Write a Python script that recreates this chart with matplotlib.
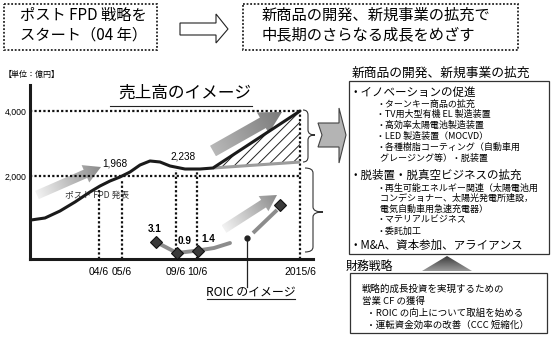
import numpy as np
import matplotlib.pyplot as plt
from matplotlib.patches import Rectangle, Polygon, PathPatch
from matplotlib.path import Path
from matplotlib.colors import LinearSegmentedColormap

plt.rcParams['font.family'] = ['Noto Sans CJK JP', 'DejaVu Sans']
plt.rcParams['hatch.linewidth'] = 0.7
NUM = ['Liberation Sans', 'DejaVu Sans']

# uneven timeline of the picture: positions along the x axis
tick_pos = [69, 92, 146, 167, 270]
tick_labels = ["04/6", "05/6", "09/6", "10/6", "2015/6"]

# sales image (億円)
sales_pos = [1, 15, 30, 45, 60, 70, 80, 90, 100, 110, 120, 130, 140, 155, 170, 183, 270]
sales_val = [646, 708, 923, 1200, 1508, 1692, 1846, 1969, 2123, 2338, 2462, 2431,
             2308, 2215, 2215, 2246, 4000]
base_pos = [183, 270]
base_val = [2246, 2430]
sales_label_pos = [92, 157]
sales_label_txt = ["1,968", "2,238"]

# ROIC image (%)
roic_pos = [126, 147, 168, 184, 200]
roic_val = [3.1, 0.9, 1.4, 1.9, 2.9]
roic_txt = ["3.1", "0.9", "1.4"]
roic_future_pos = [223, 247]
roic_future_val = [4.9, 9.5]
roic_target_pos = 250
roic_target_val = 10.5

innov_title = "・イノベーションの促進"
innov_items = ["・ターンキー商品の拡充", "・TV用大型有機 EL 製造装置", "・高効率太陽電池製造装置",
               "・LED 製造装置（MOCVD）", "・各種樹脂コーティング（自動車用", "  グレージング等）・脱装置"]
dev_title = "・脱装置・脱真空ビジネスの拡充"
dev_items = ["・再生可能エネルギー関連（太陽電池用", "  コンデショナー、太陽光発電所建設，",
             "  電気自動車用急速充電器）", "・マテリアルビジネス", "・委託加工"]
ma_title = "・M&A、資本参加、アライアンス"
fin_lines = ["戦略的成長投資を実現するための", "営業 CF の獲得",
             "  ・ROIC の向上について取組を始める", "  ・運転資金効率の改善（CCC 短縮化）"]

W, H = 554, 337
fig = plt.figure(figsize=(W / 100, H / 100), dpi=100)
bg = fig.add_axes([0, 0, 1, 1])
bg.axis('off')


def grad_fill(ax, pts, p0, p1, c0, c1, z=1):
    poly = Polygon(pts, closed=True, fc='none', ec='none')
    ax.add_patch(poly)
    xs = [p[0] for p in pts]
    ys = [p[1] for p in pts]
    x0, x1, y0, y1 = min(xs), max(xs), min(ys), max(ys)
    gx, gy = np.meshgrid(np.linspace(x0, x1, 120), np.linspace(y0, y1, 120))
    d = np.array(p1, float) - np.array(p0, float)
    t = ((gx - p0[0]) * d[0] + (gy - p0[1]) * d[1]) / (d @ d)
    cmap = LinearSegmentedColormap.from_list('g', [c0, c1])
    im = ax.imshow(np.clip(t, 0, 1), cmap=cmap, vmin=0, vmax=1, extent=(x0, x1, y1, y0),
                   origin='upper', aspect='auto', interpolation='bilinear', zorder=z)
    im.set_clip_path(poly)


def grad_arrow(ax, tail, tip, w, hw, hl, c0, c1):
    p0 = np.array(tail, float)
    d = np.array(tip, float) - p0
    L = np.hypot(*d)
    u = d / L
    n = np.array([-u[1], u[0]])
    pb = p0 + u * (L - hl)
    pts = [p0 + n * w / 2, pb + n * w / 2, pb + n * hw / 2, np.array(tip, float),
           pb - n * hw / 2, pb - n * w / 2, p0 - n * w / 2]
    grad_fill(ax, pts, tail, tip, c0, c1)


def brace(ax, x0, y0, y1, ym, xs, xp):
    r = 5
    verts = [(x0, y0), (xs, y0), (xs, y0 + r), (xs, ym - r), (xs, ym), (xp, ym),
             (xs, ym), (xs, ym + r), (xs, y1 - r), (xs, y1), (x0, y1)]
    codes = [Path.MOVETO, Path.CURVE3, Path.CURVE3, Path.LINETO, Path.CURVE3, Path.CURVE3,
             Path.CURVE3, Path.CURVE3, Path.LINETO, Path.CURVE3, Path.CURVE3]
    ax.add_patch(PathPatch(Path(verts, codes), fc='none', ec='#333', lw=0.8))


# top boxes
bg.add_patch(Rectangle((4, 4), 153, 46, fill=False, ls=(0, (1, 1)), lw=1.3, ec='#222'))
bg.add_patch(Rectangle((243, 4), 275, 46, fill=False, ls=(0, (1, 1)), lw=1.3, ec='#222'))
bg.text(20, 15, "ポスト FPD 戦略を", fontsize=11, va='center')
bg.text(20, 35, "スタート（04 年）", fontsize=11, va='center')
bg.text(262, 15, "新商品の開発、新規事業の拡充で", fontsize=11, va='center')
bg.text(262, 35, "中長期のさらなる成長をめざす", fontsize=11, va='center')
bg.add_patch(Polygon([(180, 23), (216, 23), (216, 14), (228, 29), (216, 43), (216, 35), (180, 35)],
                     fc='white', ec='#222', lw=0.8))

bg.text(4, 74, "【単位：億円】", fontsize=5.8, va='center')
bg.text(118, 93, "売上高のイメージ", fontsize=12, va='center')
bg.plot([110, 252], [106, 106], color='#222', lw=0.8)

# gradient arrows
grad_arrow(bg, (37, 195), (101, 167), 9, 19, 17, '#f2f2f2', '#8a8a8a')
grad_arrow(bg, (213, 151), (282, 112), 12, 24, 22, '#b8b8b8', '#7a7a7a')
grad_arrow(bg, (224, 229), (277, 195), 9, 18, 16, '#f2f2f2', '#8a8a8a')
bg.text(65, 195, "ポスト FPD 発表", fontsize=6.3, va='center', color='#333', zorder=3)

# right pointing block arrow and braces
bg.add_patch(Polygon([(318, 123), (339, 123), (339, 108), (346, 135), (339, 163), (339, 147),
                      (318, 147), (322, 135)], fc='#b4b4b4', ec='#444', lw=0.8))
brace(bg, 303, 110, 162, 135, 308, 315)
brace(bg, 305, 168, 252, 212, 313, 323)

# ROIC pointer
bg.plot([247, 247], [238, 287], color='#222', lw=0.9)
bg.plot([247], [238], 'o', color='#222', ms=3.5)
bg.text(251, 292, "ROIC のイメージ", fontsize=8.6, va='center', ha='center')
bg.plot([207, 295], [299, 299], color='#222', lw=0.8)

# right panel
bg.text(352, 73, "新商品の開発、新規事業の拡充", fontsize=9.2, va='center')
bg.add_patch(Rectangle((349, 81), 200, 173, fill=False, lw=0.9, ec='#333'))
bg.text(350, 92, innov_title, fontsize=8.3, va='center')
for y, s in zip([104, 114, 125.5, 136.5, 147.5, 158], innov_items):
    bg.text(376, y, s, fontsize=6.5, va='center')
bg.text(350, 175, dev_title, fontsize=8.3, va='center')
for y, s in zip([188, 198.5, 209, 220, 231.5], dev_items):
    bg.text(376, y, s, fontsize=6.5, va='center')
bg.text(350, 245, ma_title, fontsize=8.3, va='center')

bg.text(346, 266, "財務戦略", fontsize=8.6, va='center')
grad_fill(bg, [(447, 256), (472, 271), (422, 271)], (447, 256), (447, 271), '#3c3c3c', '#9a9a9a', z=2)
bg.add_patch(Rectangle((350, 273), 197, 60, fill=False, lw=0.9, ec='#333'))
for y, s in zip([289, 301, 313.5, 325.5], fin_lines):
    bg.text(362, y, s, fontsize=6.8, va='center')

bg.set_xlim(0, W)
bg.set_ylim(H, 0)

# chart axes
cax = fig.add_axes([30 / W, 1 - 259 / H, 283 / W, 174 / H])
cax.patch.set_alpha(0)
cax.set_xlim(0, 283)
cax.set_ylim(-554, 4800)
for s in ['top', 'right']:
    cax.spines[s].set_visible(False)
for s in ['left', 'bottom']:
    cax.spines[s].set_linewidth(2.2)
    cax.spines[s].set_color('#1a1a1a')
cax.set_yticks([2000, 4000], ["2,000", "4,000"], fontsize=6.3, family=NUM)
cax.set_xticks(tick_pos, tick_labels, fontsize=7.5, family=NUM)
cax.tick_params(axis='y', length=0, pad=2.5)
cax.tick_params(axis='x', length=0, pad=6)

dots = (0, (1, 1))
cax.hlines([2000, 4000], 0, 270, colors='#111', lw=1.6, linestyles=dots)
tops = np.interp(tick_pos, sales_pos, sales_val)
cax.vlines(tick_pos, -554, tops - 80, colors='#111', lw=1.6, linestyles=dots)

cax.fill_between(base_pos, base_val, np.interp(base_pos, sales_pos, sales_val),
                 facecolor='none', edgecolor='#222', hatch='///', lw=0)
cax.plot(base_pos, base_val, color='#9c9c9c', lw=2.2, solid_capstyle='butt')
cax.plot(sales_pos, sales_val, color='#1a1a1a', lw=2.2, solid_capstyle='round',
         solid_joinstyle='round')
for p, s, dx in zip(sales_label_pos, sales_label_txt, [-7, -4]):
    cax.annotate(s, (p, np.interp(p, sales_pos, sales_val)), xytext=(dx, 13),
                 textcoords='offset pixels', ha='center', va='center', fontsize=7.2, family=NUM)

rax = cax.twinx()
rax.set_ylim(-0.3, 34.5)
rax.axis('off')
rax.plot(roic_pos, roic_val, color='#8c8c8c', lw=2.8, solid_capstyle='round')
rax.plot(roic_future_pos, roic_future_val, color='#8c8c8c', lw=2.8, solid_capstyle='butt')
rax.plot(roic_pos[:3], roic_val[:3], 'D', ms=6, mfc='#3a3a3a', mec='#111', mew=0.8)
rax.plot([roic_target_pos], [roic_target_val], 'D', ms=6, mfc='#3a3a3a', mec='#111', mew=0.8)
for p, v, s, off in zip(roic_pos, roic_val, roic_txt, [(-1, 13), (8, 12), (10, 11)]):
    rax.annotate(s, (p, v), xytext=off, textcoords='offset pixels', ha='center', va='center',
                 fontsize=7.2, family=NUM, weight='bold')

fig.savefig("out.png", dpi=100)
